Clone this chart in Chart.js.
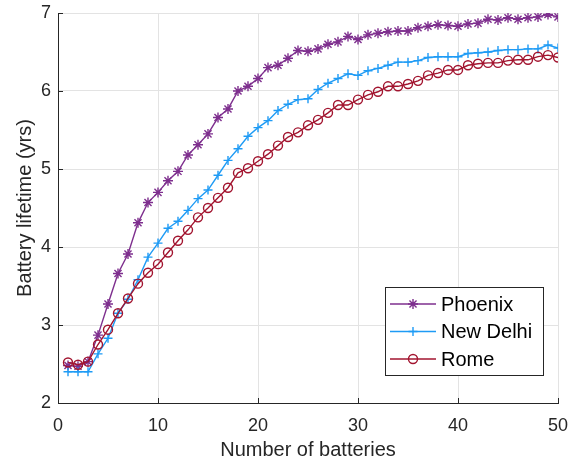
<!DOCTYPE html>
<html>
<head>
<meta charset="utf-8">
<script src="https://cdn.jsdelivr.net/npm/chart.js@4.4.0/dist/chart.umd.min.js"></script>
<style>
  html, body { margin: 0; padding: 0; background: #fff; }
  #wrap { width: 578px; height: 464px; }
</style>
</head>
<body>
<div id="wrap"><canvas id="chart" width="578" height="464"></canvas></div>
<script>
const batteries = [1,2,3,4,5,6,7,8,9,10,11,12,13,14,15,16,17,18,19,20,21,22,23,24,25,26,27,28,29,30,31,32,33,34,35,36,37,38,39,40,41,42,43,44,45,46,47,48,49,50]

const phoenix = [2.48,2.47,2.53,2.87,3.27,3.66,3.91,4.31,4.57,4.70,
  4.85,4.97,5.18,5.31,5.45,5.66,5.77,6.00,6.06,6.16,
  6.30,6.33,6.42,6.52,6.51,6.54,6.60,6.63,6.70,6.66,
  6.72,6.74,6.76,6.77,6.77,6.81,6.83,6.85,6.84,6.83,
  6.86,6.87,6.92,6.91,6.94,6.92,6.94,6.95,6.98,6.95]

const newDelhi = [2.40,2.40,2.40,2.63,2.83,3.15,3.33,3.58,3.87,4.05,
  4.24,4.33,4.47,4.62,4.73,4.92,5.11,5.26,5.42,5.53,
  5.62,5.75,5.83,5.89,5.90,6.02,6.10,6.16,6.22,6.20,
  6.26,6.29,6.33,6.37,6.37,6.39,6.43,6.44,6.44,6.44,
  6.48,6.49,6.50,6.52,6.53,6.53,6.54,6.54,6.59,6.55]

const rome = [2.52,2.49,2.53,2.75,2.94,3.15,3.34,3.53,3.67,3.78,
  3.93,4.08,4.22,4.38,4.50,4.63,4.76,4.95,5.01,5.10,
  5.19,5.30,5.41,5.47,5.56,5.63,5.72,5.82,5.82,5.89,
  5.95,5.99,6.06,6.06,6.09,6.13,6.20,6.23,6.27,6.27,
  6.33,6.35,6.36,6.36,6.39,6.40,6.40,6.44,6.46,6.43]

const seriesNames = ['Phoenix', 'New Delhi', 'Rome']
const xTicks = [0, 10, 20, 30, 40, 50]
const yTicks = [2, 3, 4, 5, 6, 7]

const FONT = "'Liberation Sans', Arial, Helvetica, sans-serif"
const TEXT = '#262626'

function pts(values) {
  return batteries.map((b, i) => ({ x: b, y: values[i] }))
}

function series(label, values, color, style, radius, order) {
  return {
    label,
    data: pts(values),
    borderColor: color,
    backgroundColor: 'rgba(0,0,0,0)',
    borderWidth: 1.4,
    pointStyle: style,
    pointRadius: radius,
    pointBorderColor: color,
    pointBackgroundColor: 'rgba(0,0,0,0)',
    pointBorderWidth: 1.4,
    tension: 0,
    order
  }
}

// legend box drawn inside the plot area, like the original
const insideLegend = {
  id: 'insideLegend',
  afterDraw(chart) {
    const { ctx, chartArea } = chart
    const w = 158, h = 88
    const left = chartArea.right - 15 - w
    const top = chartArea.bottom - 28 - h
    ctx.save()
    ctx.fillStyle = '#fff'
    ctx.fillRect(left, top, w, h)
    ctx.strokeStyle = '#262626'
    ctx.lineWidth = 1
    ctx.strokeRect(left + 0.5, top + 0.5, w, h)
    ctx.textBaseline = 'middle'
    const sets = chart.data.datasets
    sets.forEach((ds, i) => {
      const y = top + 17 + i * 27.5
      ctx.strokeStyle = ds.borderColor
      ctx.lineWidth = ds.borderWidth
      ctx.beginPath()
      ctx.moveTo(left + 5, y)
      ctx.lineTo(left + 51, y)
      ctx.stroke()
      ctx.fillStyle = 'rgba(0,0,0,0)'
      Chart.helpers.drawPoint(ctx, {
        pointStyle: ds.pointStyle,
        radius: ds.pointRadius,
        borderWidth: ds.pointBorderWidth,
        rotation: 0
      }, left + 28, y)
      ctx.font = '20px ' + FONT
      ctx.fillStyle = '#000'
      ctx.fillText(ds.label, left + 56, y + 1)
    })
    ctx.restore()
  }
}

// small inward tick marks on the left and bottom axes
const innerTicks = {
  id: 'innerTicks',
  afterDatasetsDraw(chart) {
    const { ctx, chartArea, scales } = chart
    ctx.save()
    ctx.strokeStyle = '#262626'
    ctx.lineWidth = 1
    ctx.beginPath()
    xTicks.forEach(v => {
      const px = Math.round(scales.x.getPixelForValue(v)) + 0.5
      ctx.moveTo(px, chartArea.bottom)
      ctx.lineTo(px, chartArea.bottom - 5)
    })
    yTicks.forEach(v => {
      const py = Math.round(scales.y.getPixelForValue(v)) + 0.5
      ctx.moveTo(chartArea.left, py)
      ctx.lineTo(chartArea.left + 5, py)
    })
    ctx.stroke()
    ctx.restore()
  }
}

new Chart(document.getElementById('chart'), {
  type: 'line',
  data: {
    datasets: [
      series(seriesNames[0], phoenix, '#7E2F8E', 'star', 5, 3),
      series(seriesNames[1], newDelhi, '#1E9BF5', 'cross', 4.5, 2),
      series(seriesNames[2], rome, '#A2142F', 'circle', 4.5, 1)
    ]
  },
  options: {
    responsive: false,
    animation: false,
    devicePixelRatio: 1,
    layout: { padding: { left: 0, top: 13, right: 20, bottom: 0 } },
    plugins: {
      legend: { display: false },
      tooltip: { enabled: false }
    },
    scales: {
      x: {
        type: 'linear',
        min: 0,
        max: 50,
        afterBuildTicks: axis => { axis.ticks = xTicks.map(v => ({ value: v })) },
        afterFit: axis => {
          axis.height = 61
          axis.paddingLeft = 0
          axis.paddingRight = 0
        },
        grid: { color: '#e3e3e3', drawTicks: false, lineWidth: 1 },
        border: { color: '#262626', width: 1 },
        ticks: { color: TEXT, font: { family: FONT, size: 18 }, padding: 12, maxRotation: 0 },
        title: {
          display: true,
          text: 'Number of batteries',
          color: TEXT,
          font: { family: FONT, size: 20 },
          padding: { top: 0, bottom: 2 }
        }
      },
      y: {
        min: 2,
        max: 7,
        afterBuildTicks: axis => { axis.ticks = yTicks.map(v => ({ value: v })) },
        afterFit: axis => {
          axis.width = 58
          axis.paddingTop = 0
          axis.paddingBottom = 0
        },
        grid: { color: '#e3e3e3', drawTicks: false, lineWidth: 1 },
        border: { color: '#262626', width: 1 },
        ticks: { color: TEXT, font: { family: FONT, size: 18 }, padding: 7 },
        title: {
          display: true,
          text: 'Battery lifetime (yrs)',
          color: TEXT,
          font: { family: FONT, size: 20 },
          padding: { top: 13, bottom: 0 }
        }
      }
    }
  },
  plugins: [innerTicks, insideLegend]
})
</script>
</body>
</html>
